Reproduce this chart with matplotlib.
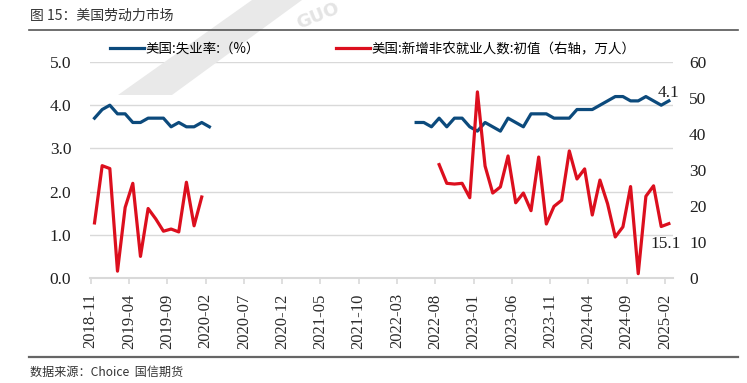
import numpy as np
import pandas as pd
import matplotlib
matplotlib.use('Agg')
import matplotlib.pyplot as plt
from matplotlib.patches import Polygon

# monthly data, gaps left empty
months = pd.period_range('2018-11', '2025-02', freq='M')

unemp_early = [3.7, 3.9, 4.0, 3.8, 3.8, 3.6, 3.6, 3.7, 3.7, 3.7, 3.5, 3.6, 3.5, 3.5, 3.6, 3.5]  # 2018-11..2020-02
unemp_late = [3.6, 3.6, 3.5, 3.7, 3.5, 3.7, 3.7, 3.5,
              3.4, 3.6, 3.5, 3.4, 3.7, 3.6, 3.5, 3.8, 3.8, 3.8, 3.7, 3.7,
              3.7, 3.9, 3.9, 3.9, 4.0, 4.1, 4.2, 4.2, 4.1, 4.1, 4.2, 4.1,
              4.0, 4.1]  # 2022-05..2025-02

nfp_early = [15.3, 31.2, 30.4, 1.9, 19.6, 26.3, 6.0, 19.3, 16.4, 13.0, 13.6, 12.8, 26.6, 14.5, 22.5]  # 2018-11..2020-01
nfp_late = [31.5, 26.3, 26.1, 26.3, 22.3,
            51.7, 31.1, 23.6, 25.3, 33.9, 20.9, 23.6, 18.7, 33.6, 15.0, 19.9, 21.6,
            35.3, 27.5, 30.3, 17.5, 27.2, 20.6, 11.4, 14.2, 25.4, 1.2, 22.7, 25.6,
            14.3, 15.1]  # 2022-08..2025-02

unemp = pd.Series(np.nan, index=months)
unemp['2018-11':'2020-02'] = unemp_early
unemp['2022-05':'2025-02'] = unemp_late
nfp = pd.Series(np.nan, index=months)
nfp['2018-11':'2020-01'] = nfp_early
nfp['2022-08':'2025-02'] = nfp_late

tick_labels = [m.strftime('%Y-%m') for m in months[::5]]

BLUE = '#0c4a7c'
RED = '#dc0f1e'
GRID = '#d9d9d9'
SERIF = 'Liberation Serif'
CJK = ['Noto Sans CJK SC', 'DejaVu Sans']

plt.rcParams['font.family'] = [SERIF, 'Noto Sans CJK SC']

W, H = 747, 383
fig = plt.figure(figsize=(W / 100, H / 100), dpi=100)

def px(x, y):
    return (x / W, 1 - y / H)

# faint watermark
band = Polygon([px(252, 0), px(302, 0), px(172, 95), px(118, 95)], closed=True,
               transform=fig.transFigure, facecolor='#e9e9e9', edgecolor='none', zorder=0)
fig.patches.append(band)
fig.text(*px(294, 33), 'GUO', rotation=22, fontsize=13, fontweight='bold',
         color='#e4e4e4', family='DejaVu Sans', ha='left', va='bottom', zorder=0)

ax = fig.add_axes([90 / W, 1 - 278 / H, (673 - 90) / W, (278 - 62) / H])
ax.patch.set_alpha(0)
ax2 = ax.twinx()

x = np.arange(len(months)) + 0.5
l1, = ax.plot(x, unemp.values, color=BLUE, lw=2.3, solid_joinstyle='round')
l2, = ax2.plot(x, nfp.values, color=RED, lw=2.3, solid_joinstyle='round')

ax.set_ylim(0, 5)
ax2.set_ylim(0, 60)
ax.set_yticks(np.arange(0, 5.1, 1.0))
ax.set_yticklabels([f'{v:.1f}' for v in np.arange(0, 5.1, 1.0)])
ax2.set_yticks(np.arange(0, 61, 10))
ax.set_xlim(-0.09, 76.04)
ax.set_xticks(np.arange(0, len(months), 5))
ax.set_xticklabels(tick_labels, rotation=90)

ax.grid(axis='y', color=GRID, lw=1)
ax.set_axisbelow(True)
for a in (ax, ax2):
    for s in ('left', 'right', 'top'):
        a.spines[s].set_visible(False)
ax2.spines['bottom'].set_visible(False)
ax.spines['bottom'].set_color(GRID)
ax.spines['bottom'].set_linewidth(1.5)

ax.tick_params(axis='y', length=0, pad=13.5, labelsize=12.5, labelcolor='#1f1f1f')
ax2.tick_params(axis='y', length=0, pad=11.5, labelsize=12.5, labelcolor='#1f1f1f')
ax.tick_params(axis='x', length=4, width=1.2, color=GRID, pad=7, labelsize=12, labelcolor='#2b2b2b')

# end labels
ax.annotate('4.1', (x[-1], unemp.iloc[-1]), xytext=(0, 6), textcoords='offset points',
            ha='center', va='center', fontsize=12.5, color='#1f1f1f')
ax2.annotate('15.1', (x[-1], nfp.iloc[-1]), xytext=(-2, -14.5), textcoords='offset points',
             ha='center', va='center', fontsize=12.5, color='#1f1f1f')

fig.legend([l1, l2], ['美国:失业率:（%）', '美国:新增非农就业人数:初值（右轴，万人）'],
           loc='center left', bbox_to_anchor=px(110, 49), ncol=2, frameon=False,
           prop={'family': CJK, 'size': 9.7}, handlelength=2.55, handletextpad=0.1,
           columnspacing=5.6, borderpad=0, borderaxespad=0)

# title, rules and source
fig.text(*px(30, 16), '图 15：美国劳动力市场', family=CJK, fontsize=10, color='#333333',
         ha='left', va='center')
fig.add_artist(plt.Line2D([29 / W, 738 / W], [1 - 30 / H] * 2, color='#555555', lw=1.2))
fig.add_artist(plt.Line2D([29 / W, 738 / W], [1 - 357 / H] * 2, color='#666666', lw=1.6))
fig.text(*px(30, 372), '数据来源：Choice  国信期货', family=CJK, fontsize=8.7, color='#333333',
         ha='left', va='center')

fig.savefig('out.png', dpi=100)
